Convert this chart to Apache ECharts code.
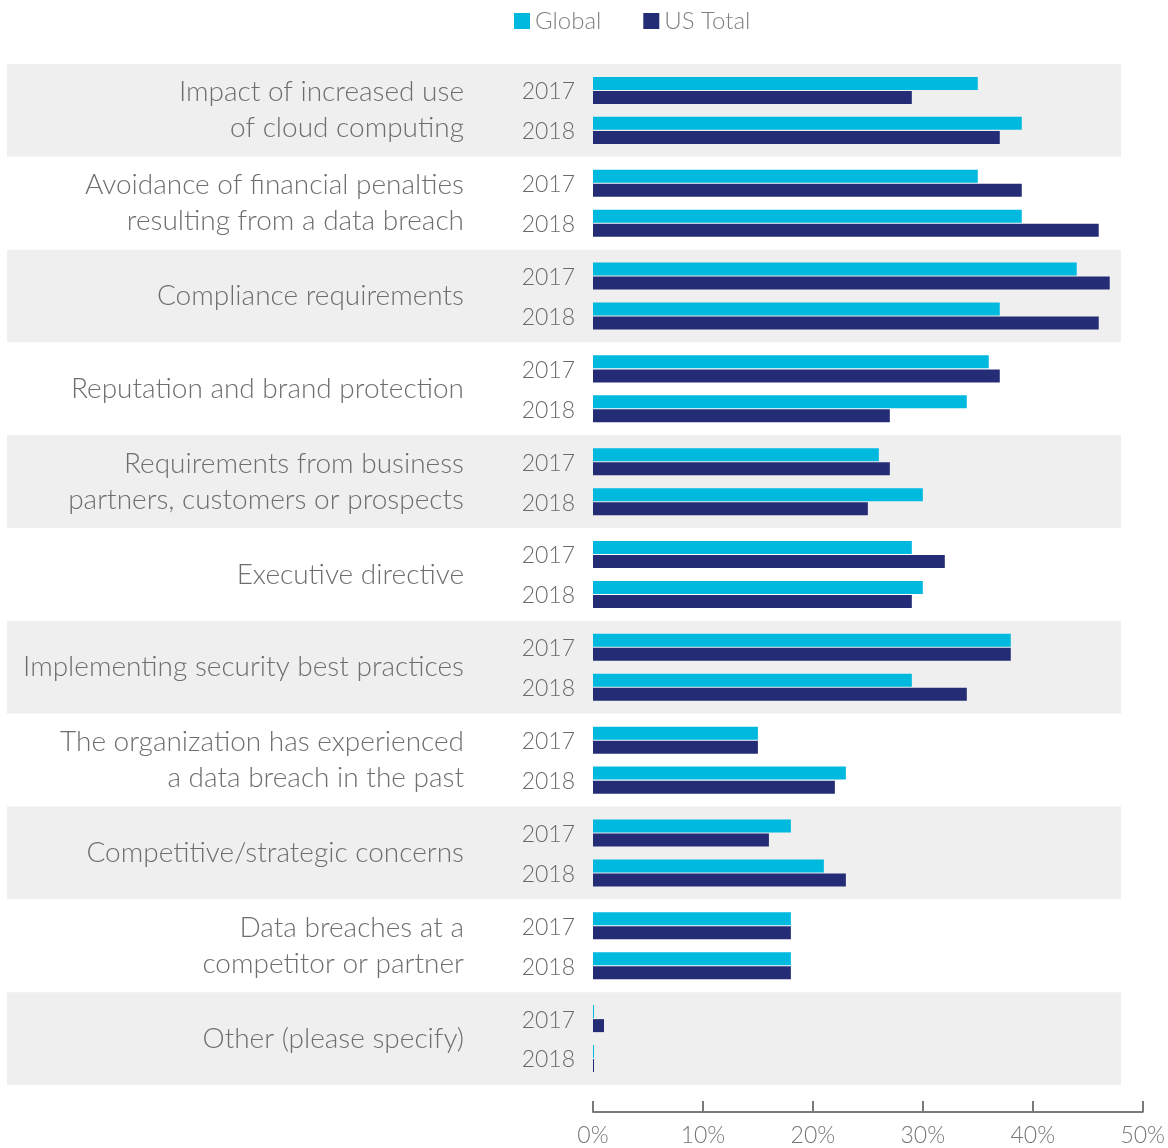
<!DOCTYPE html>
<html>
<head>
<meta charset="utf-8">
<script src="https://cdn.jsdelivr.net/npm/echarts@6/dist/echarts.min.js"></script>
<style>
html,body{margin:0;padding:0;background:#fff;}
#chart{width:1168px;height:1148px;}
</style>
</head>
<body>
<div id="chart"></div>
<script>
const categories = [
  'Impact of increased use\nof cloud computing',
  'Avoidance of financial penalties\nresulting from a data breach',
  'Compliance requirements',
  'Reputation and brand protection',
  'Requirements from business\npartners, customers or prospects',
  'Executive directive',
  'Implementing security best practices',
  'The organization has experienced\na data breach in the past',
  'Competitive/strategic concerns',
  'Data breaches at a\ncompetitor or partner',
  'Other (please specify)'
];
const years = ['2017', '2018'];
const seriesNames = ['Global', 'US Total'];
const global2017 = [35, 35, 44, 36, 26, 29, 38, 15, 18, 18, 0];
const us2017     = [29, 39, 47, 37, 27, 32, 38, 15, 16, 18, 1];
const global2018 = [39, 39, 37, 34, 30, 30, 29, 23, 21, 18, 0];
const us2018     = [37, 46, 46, 27, 25, 29, 34, 22, 23, 18, 0];
const xTicks = [0, 10, 20, 30, 40, 50];

const FONT = 'Lato';
const cyan = '#00b9df';
const navy = '#232c74';
const textGray = '#6e6e6e';

const chart = echarts.init(document.getElementById('chart'), null, {renderer: 'canvas'});

function yearLabel(y) {
  return {
    show: true,
    position: [0, '100%'],
    align: 'right',
    verticalAlign: 'middle',
    offset: [-18, 2],
    formatter: () => y,
    color: '#6a6a6a',
    fontSize: 23,
    fontFamily: FONT,
    fontWeight: 300
  };
}

const common = {type: 'bar', xAxisIndex: 0, yAxisIndex: 0, barWidth: 13, barGap: '8%', barMinHeight: 1, animation: false};

const option = {
  backgroundColor: '#ffffff',
  animation: false,
  legend: {
    data: seriesNames,
    left: 509,
    top: 4,
    itemWidth: 16,
    itemHeight: 16,
    itemGap: 42,
    icon: 'rect',
    textStyle: {fontSize: 24, color: '#808080', fontFamily: FONT, fontWeight: 300}
  },
  grid: [
    {left: 593, right: 25, top: 64, height: 1021},
    {left: 7, right: 47, top: 64, height: 1021}
  ],
  xAxis: [
    {
      type: 'value', gridIndex: 0, min: xTicks[0], max: xTicks[xTicks.length - 1], interval: 10,
      offset: 27,
      axisLine: {show: true, lineStyle: {color: '#7a7a7a', width: 2}},
      axisTick: {show: true, inside: true, length: 11, lineStyle: {color: '#7a7a7a', width: 2}},
      splitLine: {show: false},
      axisLabel: {formatter: '{value}%', fontSize: 23, color: '#777', fontFamily: FONT, fontWeight: 300, margin: 12}
    },
    {type: 'value', gridIndex: 1, show: false, min: 0, max: 1}
  ],
  yAxis: [
    {
      type: 'category', gridIndex: 0, data: categories, inverse: true,
      axisLine: {show: false}, axisTick: {show: false},
      axisLabel: {margin: 129, fontSize: 28, lineHeight: 36, color: textGray, fontFamily: FONT, fontWeight: 300, align: 'right'}
    },
    {
      type: 'category', gridIndex: 1, data: categories, inverse: true,
      axisLine: {show: false}, axisTick: {show: false}, axisLabel: {show: false},
      splitLine: {show: false},
      splitArea: {show: true, areaStyle: {color: ['#efefef', '#ffffff']}}
    }
  ],
  series: [
    Object.assign({}, common, {name: seriesNames[0], data: global2017, itemStyle: {color: cyan}, label: yearLabel(years[0])}),
    Object.assign({}, common, {name: seriesNames[1], data: us2017, itemStyle: {color: navy}}),
    Object.assign({}, common, {name: 'spacer', data: us2017.map(() => 0), barWidth: 11, barMinHeight: 0, itemStyle: {color: 'rgba(0,0,0,0)'}, silent: true}),
    Object.assign({}, common, {name: seriesNames[0], data: global2018, itemStyle: {color: cyan}, label: yearLabel(years[1])}),
    Object.assign({}, common, {name: seriesNames[1], data: us2018, itemStyle: {color: navy}})
  ]
};
chart.setOption(option);
</script>
</body>
</html>
